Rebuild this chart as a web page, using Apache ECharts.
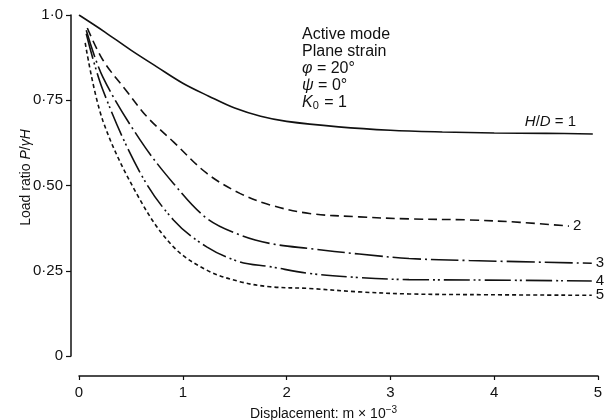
<!DOCTYPE html>
<html>
<head>
<meta charset="utf-8">
<script src="https://cdn.jsdelivr.net/npm/echarts@6/dist/echarts.min.js"></script>
<style>
  html, body { margin: 0; padding: 0; background: #fff; }
  #main { width: 607px; height: 420px; }
</style>
</head>
<body>
<div id="main"></div>
<script>
// displacement (m x 10^-3) and load ratio for each H/D curve
var x1 = [0, 0.25, 0.5, 0.75, 1.0, 1.25, 1.5, 1.75, 2.0, 2.5, 3.0, 3.5, 4.0, 4.5, 4.95];
var y1 = [1.0, 0.95, 0.897, 0.848, 0.80, 0.762, 0.727, 0.703, 0.688, 0.672, 0.662, 0.657, 0.654, 0.653, 0.651];

var x2 = [0.08, 0.23, 0.45, 0.66, 0.91, 1.23, 1.55, 1.84, 2.22, 2.7, 3.18, 3.76, 4.25, 4.72];
var y2 = [0.962, 0.868, 0.78, 0.70, 0.628, 0.536, 0.477, 0.443, 0.418, 0.408, 0.402, 0.399, 0.392, 0.381];

var x3 = [0.07, 0.23, 0.59, 0.91, 1.23, 1.55, 1.84, 2.22, 2.7, 3.18, 3.76, 4.94];
var y3 = [0.955, 0.818, 0.633, 0.506, 0.404, 0.355, 0.33, 0.315, 0.299, 0.286, 0.28, 0.272];

var x4 = [0.07, 0.23, 0.59, 0.91, 1.23, 1.55, 1.84, 2.22, 2.7, 3.18, 3.76, 4.94];
var y4 = [0.945, 0.78, 0.537, 0.399, 0.32, 0.276, 0.262, 0.242, 0.23, 0.224, 0.223, 0.22];

var x5 = [0.06, 0.23, 0.59, 0.91, 1.23, 1.55, 1.84, 2.22, 2.7, 3.18, 3.76, 4.94];
var y5 = [0.918, 0.69, 0.457, 0.32, 0.252, 0.218, 0.203, 0.198, 0.188, 0.182, 0.18, 0.178];

var yTickLabels = { 0: '0', 0.25: '0·25', 0.5: '0·50', 0.75: '0·75', 1: '1·0' };
var curveLabels = ['{i|H}/{i|D} = 1', '2', '3', '4', '5'];

var FONT = '"Liberation Sans", Arial, sans-serif';
var INK = '#111';

function zip(xs, ys) {
  var out = [];
  for (var i = 0; i < xs.length; i++) out.push([xs[i], ys[i]]);
  return out;
}

function curve(xs, ys, dash, label, offset) {
  return {
    type: 'line',
    data: zip(xs, ys),
    smooth: 0.35,
    symbol: 'none',
    silent: true,
    lineStyle: { color: INK, width: 1.6, type: dash },
    endLabel: {
      show: true,
      formatter: label,
      distance: 4,
      offset: offset || [0, 0],
      color: INK,
      fontSize: 15,
      fontFamily: FONT,
      rich: { i: { fontStyle: 'italic', fontSize: 15, fontFamily: FONT, color: INK } }
    }
  };
}

var chart = echarts.init(document.getElementById('main'));

chart.setOption({
  animation: false,
  backgroundColor: '#fff',
  grid: { left: 79, right: 9, top: 15, bottom: 64, outerBoundsMode: 'none', containLabel: false },
  xAxis: {
    type: 'value',
    min: 0,
    max: 5,
    interval: 1,
    offset: 20,
    name: 'Displacement: m × 10{sup|−3}',
    nameLocation: 'middle',
    nameGap: 29,
    nameMoveOverlap: false,
    nameTextStyle: {
      color: INK, fontSize: 14, fontFamily: FONT, padding: [0, 30, 0, 0],
      rich: { sup: { fontSize: 10, fontFamily: FONT, color: INK, padding: [0, 0, 8, 0] } }
    },
    axisLine: { show: true, onZero: false, lineStyle: { color: INK, width: 1.5 } },
    axisTick: { show: true, length: 4, lineStyle: { color: INK, width: 1.2 } },
    axisLabel: { color: INK, fontSize: 15, fontFamily: FONT, margin: 9 },
    splitLine: { show: false }
  },
  yAxis: {
    type: 'value',
    min: 0,
    max: 1,
    interval: 0.25,
    offset: 8,
    name: 'Load ratio {i|P}/{i|γH}',
    nameLocation: 'middle',
    nameRotate: 90,
    nameGap: 38,
    nameMoveOverlap: false,
    nameTextStyle: {
      color: INK, fontSize: 14, fontFamily: FONT, padding: [0, 0, 0, 16],
      rich: { i: { fontStyle: 'italic', fontSize: 14, fontFamily: FONT, color: INK } }
    },
    axisLine: { show: true, onZero: false, lineStyle: { color: INK, width: 1.5 } },
    axisTick: { show: true, length: 5, lineStyle: { color: INK, width: 1.2 } },
    axisLabel: {
      color: INK, fontSize: 15, fontFamily: FONT, margin: 8,
      formatter: function (v) { return yTickLabels[v] !== undefined ? yTickLabels[v] : ''; }
    },
    splitLine: { show: false }
  },
  graphic: [{
    type: 'text',
    left: 302,
    top: 26,
    style: {
      text: 'Active mode\nPlane strain\n{i|φ} = 20°\n{i|ψ} = 0°\n{i|K}{sub|0} = 1',
      fill: INK,
      fontSize: 16,
      fontFamily: FONT,
      lineHeight: 17,
      rich: {
        i: { fontStyle: 'italic', fontSize: 16, fontFamily: FONT, lineHeight: 17 },
        sub: { fontSize: 11, fontFamily: FONT, lineHeight: 17, padding: [6, 1, 0, 0] }
      }
    }
  }],
  series: [
    curve(x1, y1, 'solid', curveLabels[0], [-72, -12]),
    curve(x2, y2, [9, 5], curveLabels[1]),
    curve(x3, y3, [28, 4, 2, 4], curveLabels[2]),
    curve(x4, y4, [26, 4, 2, 3, 2, 4], curveLabels[3]),
    curve(x5, y5, [4, 3], curveLabels[4])
  ]
});
</script>
</body>
</html>
